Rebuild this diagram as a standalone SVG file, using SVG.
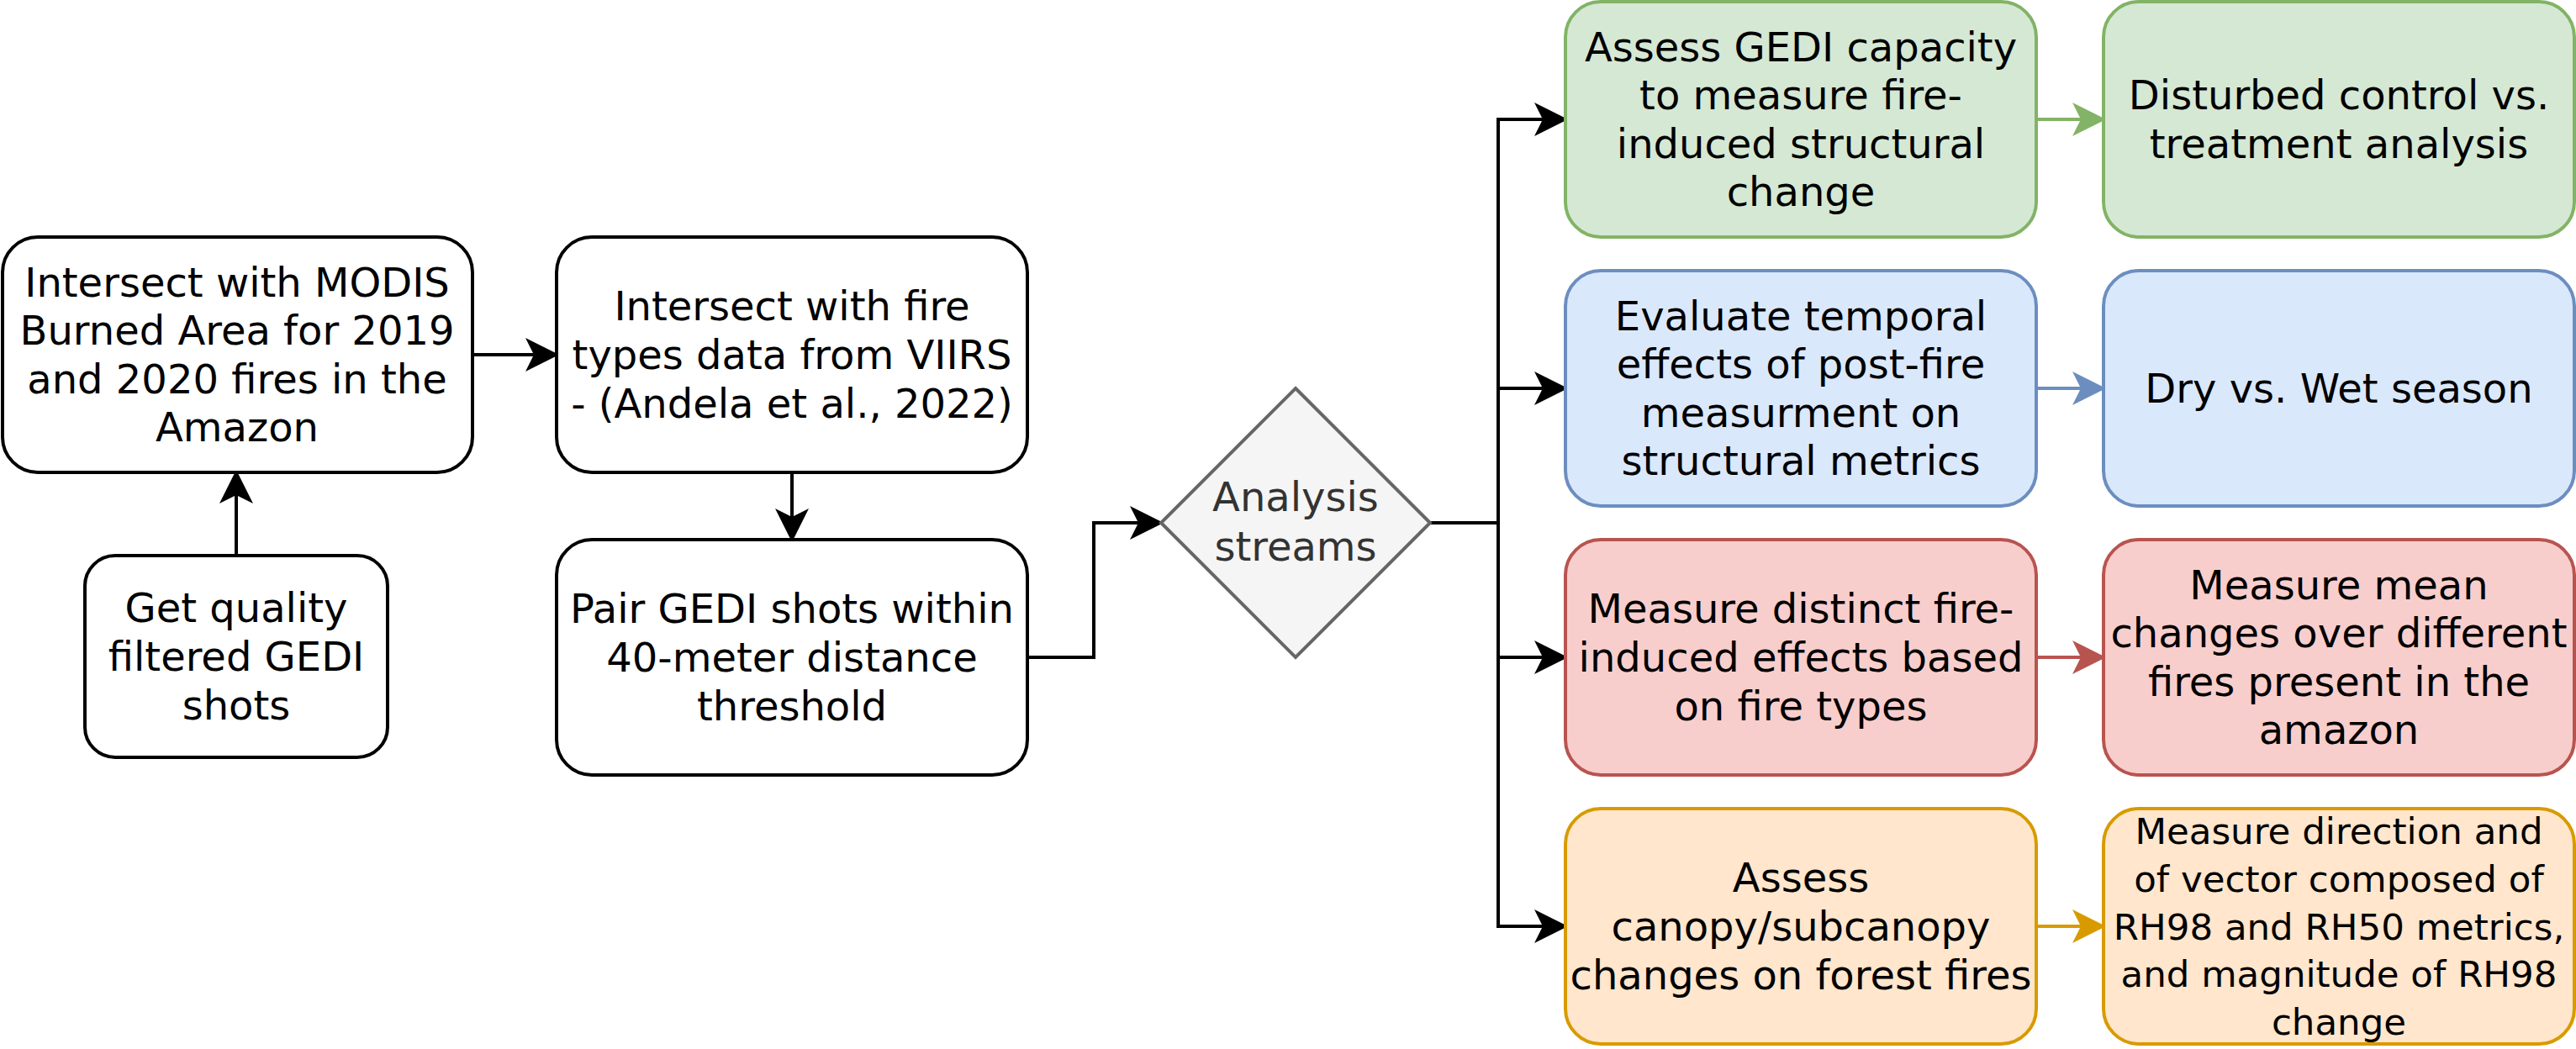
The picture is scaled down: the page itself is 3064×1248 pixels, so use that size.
<svg xmlns="http://www.w3.org/2000/svg" width="3064" height="1248" viewBox="0 0 3064 1248">
<style>
text{font-family:"DejaVu Sans","Liberation Sans",sans-serif;font-size:48px;text-anchor:middle;fill:#000}
.box{fill:#fff;stroke:#000;stroke-width:4}
.g{fill:#d5e8d4;stroke:#82b366;stroke-width:4}
.b{fill:#dae8fc;stroke:#6c8ebf;stroke-width:4}
.r{fill:#f8cecc;stroke:#b85450;stroke-width:4}
.o{fill:#ffe6cc;stroke:#d79b00;stroke-width:4}
.e{fill:none;stroke-width:4}
</style>
<defs>
<marker id="ak" markerUnits="userSpaceOnUse" markerWidth="40" markerHeight="40" refX="9" refY="18" orient="auto" viewBox="0 0 36 36"><path d="M0 0 L36 18 L0 36 L9 18 Z" fill="#000"/></marker>
<marker id="ag" markerUnits="userSpaceOnUse" markerWidth="40" markerHeight="40" refX="9" refY="18" orient="auto" viewBox="0 0 36 36"><path d="M0 0 L36 18 L0 36 L9 18 Z" fill="#82b366"/></marker>
<marker id="ab" markerUnits="userSpaceOnUse" markerWidth="40" markerHeight="40" refX="9" refY="18" orient="auto" viewBox="0 0 36 36"><path d="M0 0 L36 18 L0 36 L9 18 Z" fill="#6c8ebf"/></marker>
<marker id="ar" markerUnits="userSpaceOnUse" markerWidth="40" markerHeight="40" refX="9" refY="18" orient="auto" viewBox="0 0 36 36"><path d="M0 0 L36 18 L0 36 L9 18 Z" fill="#b85450"/></marker>
<marker id="ao" markerUnits="userSpaceOnUse" markerWidth="40" markerHeight="40" refX="9" refY="18" orient="auto" viewBox="0 0 36 36"><path d="M0 0 L36 18 L0 36 L9 18 Z" fill="#d79b00"/></marker>
</defs>
<g id="connectors">
<path class="e" stroke="#000" d="M562 422 H635" marker-end="url(#ak)"/>
<path class="e" stroke="#000" d="M281 661 V589" marker-end="url(#ak)"/>
<path class="e" stroke="#000" d="M942 562 V615" marker-end="url(#ak)"/>
<path class="e" stroke="#000" d="M1222 782 H1301 V622 H1354" marker-end="url(#ak)"/>
<path class="e" stroke="#000" d="M1701 622 H1782 V142 H1835" marker-end="url(#ak)"/>
<path class="e" stroke="#000" d="M1701 622 H1782 V462 H1835" marker-end="url(#ak)"/>
<path class="e" stroke="#000" d="M1701 622 H1782 V782 H1835" marker-end="url(#ak)"/>
<path class="e" stroke="#000" d="M1701 622 H1782 V1102 H1835" marker-end="url(#ak)"/>
<path class="e" stroke="#82b366" d="M2422 142 H2475" marker-end="url(#ag)"/>
<path class="e" stroke="#6c8ebf" d="M2422 462 H2475" marker-end="url(#ab)"/>
<path class="e" stroke="#b85450" d="M2422 782 H2475" marker-end="url(#ar)"/>
<path class="e" stroke="#d79b00" d="M2422 1102 H2475" marker-end="url(#ao)"/>
</g>
<g id="modis">
<rect class="box" x="3" y="282" width="559" height="280" rx="42"/>
<text x="282" y="352.6"><tspan x="282">Intersect with MODIS</tspan><tspan x="282" dy="57.6">Burned Area for 2019</tspan><tspan x="282" dy="57.6">and 2020 fires in the</tspan><tspan x="282" dy="57.6">Amazon</tspan></text>
</g>
<g id="quality">
<rect class="box" x="101" y="661" width="360" height="240" rx="36"/>
<text x="281" y="740.4"><tspan x="281">Get quality</tspan><tspan x="281" dy="57.6">filtered GEDI</tspan><tspan x="281" dy="57.6">shots</tspan></text>
</g>
<g id="viirs">
<rect class="box" x="662" y="282" width="560" height="280" rx="42"/>
<text x="942" y="381.4"><tspan x="942">Intersect with fire</tspan><tspan x="942" dy="57.6">types data from VIIRS</tspan><tspan x="942" dy="57.6">- (Andela et al., 2022)</tspan></text>
</g>
<g id="pair">
<rect class="box" x="662" y="642" width="560" height="280" rx="42"/>
<text x="942" y="741.4"><tspan x="942">Pair GEDI shots within</tspan><tspan x="942" dy="57.6">40-meter distance</tspan><tspan x="942" dy="57.6">threshold</tspan></text>
</g>
<g id="analysis">
<path d="M1541 462 L1701 622 L1541 782 L1381 622 Z" fill="#f5f5f5" stroke="#666666" stroke-width="4"/>
<text x="1541" y="608.2" style="fill:#333333"><tspan x="1541">Analysis</tspan><tspan x="1541" dy="59">streams</tspan></text>
</g>
<g id="assess-gedi">
<rect class="g" x="1862" y="2" width="560" height="280" rx="42"/>
<text x="2142" y="72.6"><tspan x="2142">Assess GEDI capacity</tspan><tspan x="2142" dy="57.6">to measure fire-</tspan><tspan x="2142" dy="57.6">induced structural</tspan><tspan x="2142" dy="57.6">change</tspan></text>
</g>
<g id="disturbed">
<rect class="g" x="2502" y="2" width="560" height="280" rx="42"/>
<text x="2782" y="130.2"><tspan x="2782">Disturbed control vs.</tspan><tspan x="2782" dy="57.6">treatment analysis</tspan></text>
</g>
<g id="temporal">
<rect class="b" x="1862" y="322" width="560" height="280" rx="42"/>
<text x="2142" y="392.6"><tspan x="2142">Evaluate temporal</tspan><tspan x="2142" dy="57.6">effects of post-fire</tspan><tspan x="2142" dy="57.6">measurment on</tspan><tspan x="2142" dy="57.6">structural metrics</tspan></text>
</g>
<g id="season">
<rect class="b" x="2502" y="322" width="560" height="280" rx="42"/>
<text x="2782" y="479">Dry vs. Wet season</text>
</g>
<g id="firetypes">
<rect class="r" x="1862" y="642" width="560" height="280" rx="42"/>
<text x="2142" y="741.4"><tspan x="2142">Measure distinct fire-</tspan><tspan x="2142" dy="57.6">induced effects based</tspan><tspan x="2142" dy="57.6">on fire types</tspan></text>
</g>
<g id="meanchanges">
<rect class="r" x="2502" y="642" width="560" height="280" rx="42"/>
<text x="2782" y="712.6"><tspan x="2782">Measure mean</tspan><tspan x="2782" dy="57.6">changes over different</tspan><tspan x="2782" dy="57.6">fires present in the</tspan><tspan x="2782" dy="57.6">amazon</tspan></text>
</g>
<g id="canopy">
<rect class="o" x="1862" y="962" width="560" height="280" rx="42"/>
<text x="2142" y="1061.4"><tspan x="2142">Assess</tspan><tspan x="2142" dy="57.6">canopy/subcanopy</tspan><tspan x="2142" dy="57.6">changes on forest fires</tspan></text>
</g>
<g id="vector">
<rect class="o" x="2502" y="962" width="560" height="280" rx="42"/>
<text x="2782" y="1004.3" style="font-size:43.5px"><tspan x="2782">Measure direction and</tspan><tspan x="2782" dy="56.6">of vector composed of</tspan><tspan x="2782" dy="56.6">RH98 and RH50 metrics,</tspan><tspan x="2782" dy="56.6">and magnitude of RH98</tspan><tspan x="2782" dy="56.6">change</tspan></text>
</g>
</svg>
